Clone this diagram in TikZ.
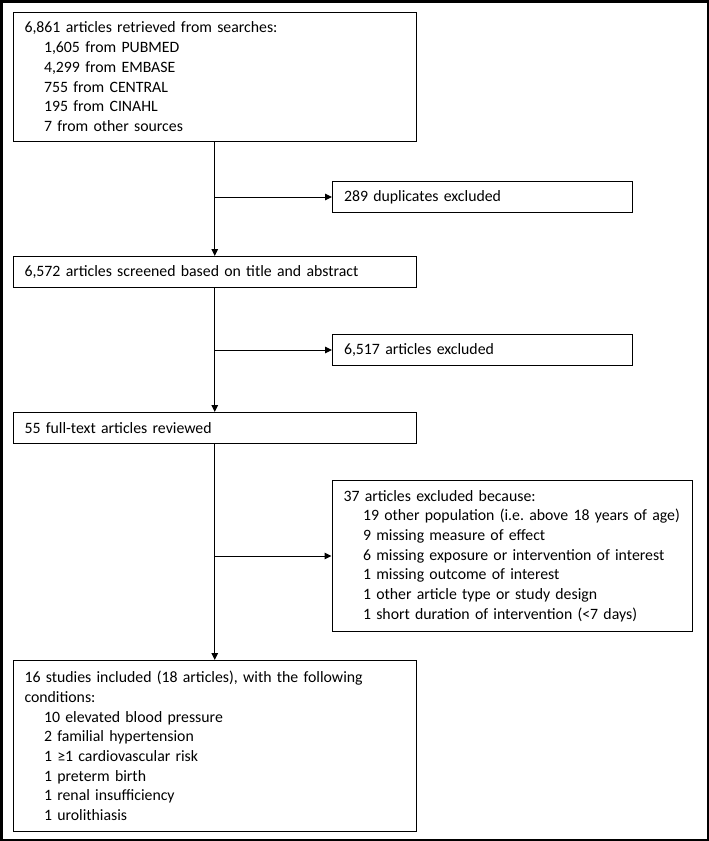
\documentclass[tikz,border=0pt]{standalone}
\usepackage{fontspec}
\setmainfont{Carlito}
\usetikzlibrary{arrows.meta}
\frenchspacing

\tikzset{
    flowbox/.style={draw, line width=1bp, anchor=north west, inner xsep=11.5bp, inner ysep=0pt,
        align=left, font=\fontsize{15.8bp}{19.7bp}\selectfont},
    flowarrow/.style={line width=1bp, -{Triangle[length=7bp, width=6.5bp]}},
}
\newcommand{\indline}{\hspace*{19.5bp}}

\begin{document}
\begin{tikzpicture}[x=1bp, y=-1bp]
    \useasboundingbox (0, 0) rectangle (709, 841);
    % Outer frame
    \draw[line width=2bp] (1.5, 1.5) rectangle (707.5, 839.5);
    % Main column
    \node[flowbox, text width=380.5bp, minimum height=129.5bp] (retrieved) at (12.5, 11.5)
        {6,861 articles retrieved from searches:\\
        \indline 1,605 from PUBMED\\
        \indline 4,299 from EMBASE\\
        \indline 755 from CENTRAL\\
        \indline 195 from CINAHL\\
        \indline 7 from other sources};
    \node[flowbox, text width=380.5bp, minimum height=31bp] (screened) at (12.5, 256)
        {6,572 articles screened based on title and abstract};
    \node[flowbox, text width=380.5bp, minimum height=31bp] (fulltext) at (12.5, 412)
        {55 full-text articles reviewed};
    \node[flowbox, text width=380.5bp, minimum height=171bp] (included) at (12.5, 660)
        {16 studies included (18 articles), with the following\\
        conditions:\\
        \indline 10 elevated blood pressure\\
        \indline 2 familial hypertension\\
        \indline 1 ≥1 cardiovascular risk\\
        \indline 1 preterm birth\\
        \indline 1 renal insufficiency\\
        \indline 1 urolithiasis};
    % Exclusions
    \node[flowbox, text width=277bp, minimum height=31bp] (duplicates) at (332, 181)
        {289 duplicates excluded};
    \node[flowbox, text width=277bp, minimum height=31bp] (excluded) at (332, 334)
        {6,517 articles excluded};
    \node[flowbox, text width=337.5bp, minimum height=151bp] (reasons) at (331.5, 480)
        {37 articles excluded because:\\
        \indline 19 other population (i.e. above 18 years of age)\\
        \indline 9 missing measure of effect\\
        \indline 6 missing exposure or intervention of interest\\
        \indline 1 missing outcome of interest\\
        \indline 1 other article type or study design\\
        \indline 1 short duration of intervention (<7 days)};
    % Arrows
    \draw[flowarrow] (retrieved.south) -- (screened.north);
    \draw[flowarrow] (screened.south) -- (fulltext.north);
    \draw[flowarrow] (fulltext.south) -- (included.north);
    \coordinate (split1) at (retrieved.south |- duplicates.west);
    \coordinate (split2) at (screened.south |- excluded.west);
    \coordinate (split3) at (fulltext.south |- reasons.west);
    \draw[flowarrow] (split1) -- (duplicates.west);
    \draw[flowarrow] (split2) -- (excluded.west);
    \draw[flowarrow] (split3) -- (reasons.west);
\end{tikzpicture}
\end{document}
